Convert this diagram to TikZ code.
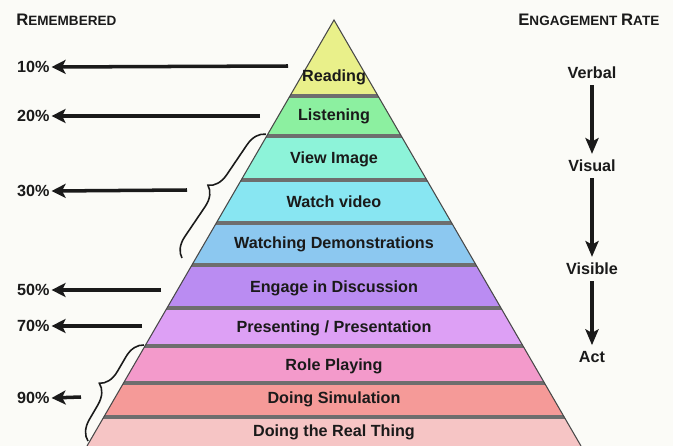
\documentclass[tikz,border=0pt]{standalone}
\usepackage{fontspec}
\setmainfont{Liberation Sans}
\usepackage{xcolor}
\usetikzlibrary{arrows.meta,decorations.pathreplacing,calc}

\definecolor{paper}{HTML}{FBFBF7}
\definecolor{ink}{HTML}{1A1A1A}
\definecolor{sepgray}{HTML}{6E6E6E}
\definecolor{cread}{HTML}{E9F08A}
\definecolor{clisten}{HTML}{8CF0A0}
\definecolor{cview}{HTML}{8DF3D9}
\definecolor{cvideo}{HTML}{88E6F2}
\definecolor{cdemo}{HTML}{8CC8F0}
\definecolor{cengage}{HTML}{BA8CF2}
\definecolor{cpresent}{HTML}{DDA0F5}
\definecolor{crole}{HTML}{F39ACB}
\definecolor{csim}{HTML}{F59A98}
\definecolor{creal}{HTML}{F6C5C5}

\begin{document}
\begin{tikzpicture}[x=0.02cm,y=-0.02cm,
	lbl/.style={text=ink,font=\fontsize{9.2}{11}\selectfont\bfseries},
	pct/.style={text=ink,anchor=west,inner sep=1pt,font=\fontsize{9.2}{11}\selectfont\bfseries},
	head/.style={text=ink,anchor=west,inner sep=0pt,font=\bfseries},
	larrow/.style={ink,line width=2pt,-{Stealth[length=8pt,width=8pt,inset=2pt]}},
	varrow/.style={ink,line width=2pt,-{Stealth[length=9pt,width=7.5pt,inset=2pt]}},
	brc/.style={ink,line width=0.9pt,decorate,decoration={brace,amplitude=11pt}}
	]
	\fill[paper] (0,0) rectangle (673,446);
	\useasboundingbox (0,0) rectangle (673,446);

	\begin{scope}
		\clip (334,20) -- (581,446) -- (87,446) -- cycle;
		\foreach \t/\b/\c in {20/96/cread,96/136/clisten,136/180/cview,180/223/cvideo,223/265/cdemo,265/308/cengage,308/346/cpresent,346/383/crole,383/417/csim,417/446/creal}
			\fill[\c] (80,\t) rectangle (590,\b);
		\foreach \y in {96,136,180,223,265,308,346,383,417}
			\draw[sepgray,line width=2.4pt] (80,\y) -- (590,\y);
	\end{scope}
	\draw[ink!80,line width=0.6pt] (87,446) -- (334,20) -- (581,446);

	\node[lbl] (read) at (334,77) {Reading};
	\node[lbl] (listen) at (334,116) {Listening};
	\node[lbl] (view) at (334,159) {View Image};
	\node[lbl] (video) at (334,202) {Watch video};
	\node[lbl] (demo) at (334,244) {Watching Demonstrations};
	\node[lbl] (engage) at (334,288) {Engage in Discussion};
	\node[lbl] (present) at (334,328) {Presenting / Presentation};
	\node[lbl] (role) at (334,366) {Role Playing};
	\node[lbl] (sim) at (334,399) {Doing Simulation};
	\node[lbl] (real) at (334,432) {Doing the Real Thing};

	\node[head] (remembered) at (16,20) {{\fontsize{9.5}{10}\selectfont R}{\fontsize{7.7}{10}\selectfont EMEMBERED}};
	\node[head] (engagement) at (518,20) {{\fontsize{9.5}{10}\selectfont E}{\fontsize{7.7}{10}\selectfont NGAGEMENT }{\fontsize{9.5}{10}\selectfont R}{\fontsize{7.7}{10}\selectfont ATE}};

	\node[pct] (p10) at (15,67) {10\%};
	\node[pct] (p20) at (15,116) {20\%};
	\node[pct] (p30) at (15,191) {30\%};
	\node[pct] (p50) at (15,290) {50\%};
	\node[pct] (p70) at (15,326) {70\%};
	\node[pct] (p90) at (15,398) {90\%};

	\coordinate (s10) at (288,66);
	\coordinate (s20) at (260,116);
	\coordinate (s30) at (187,190);
	\coordinate (s50) at (161,290);
	\coordinate (s70) at (142,326);
	\coordinate (s90) at (81,397);
	\draw[larrow] (s10) -- (p10.east);
	\draw[larrow] (s20) -- (p20.east);
	\draw[larrow] (s30) -- (p30.east);
	\draw[larrow] (s50) -- (p50.east);
	\draw[larrow] (s70) -- (p70.east);
	\draw[larrow] (s90) -- (p90.east);

	\draw[brc] (182,258) -- (266,134);
	\draw[brc] (88,441) -- (144,345);

	\node[lbl] (verbal) at (592,73) {Verbal};
	\node[lbl] (visual) at (592,166) {Visual};
	\node[lbl] (visible) at (592,269) {Visible};
	\node[lbl] (act) at (592,357) {Act};
	\draw[varrow] (verbal) -- (visual);
	\draw[varrow] (visual) -- (visible);
	\draw[varrow] (visible) -- (act);
\end{tikzpicture}
\end{document}
